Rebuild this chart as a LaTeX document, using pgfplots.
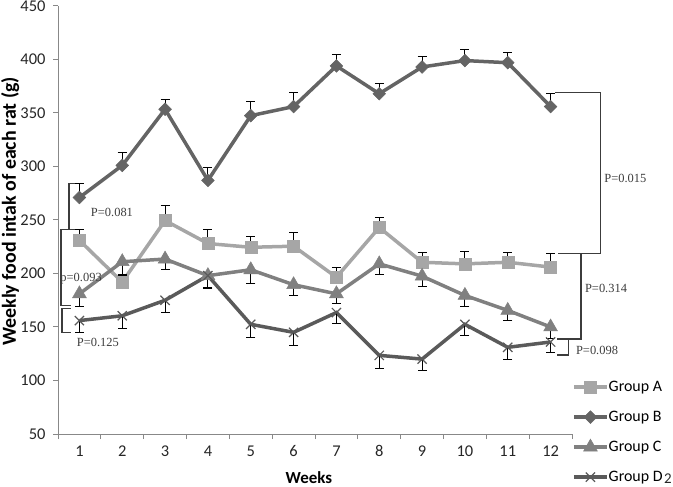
\documentclass[border=0pt]{standalone}
\usepackage{fontspec}
\setmainfont{Carlito}
\newfontfamily\pfont{Liberation Serif}
\usepackage{pgfplots}
\pgfplotsset{compat=1.18}
\usepackage{pgfplotstable}

\definecolor{grpA}{HTML}{A6A6A6}
\definecolor{grpB}{HTML}{646464}
\definecolor{grpC}{HTML}{808080}
\definecolor{grpD}{HTML}{5A5A5A}
\definecolor{axgray}{HTML}{888888}
\definecolor{brk}{HTML}{3C3C3C}

% weekly intake (g): mean and error per group
\pgfplotstableread{
wk  a      ae    b      be    c      ce    d      de
1   231    10    271    13    181    11.5  156    11
2   192    7     301    12.5  211    12.5  160.5  11.5
3   249.5  14    353.5  9.5   213.5  10    175    11
4   228    13    287    12    198    12    198    11
5   224.5  10.5  347.5  13    203.5  12.5  152.5  12
6   225.5  12.5  356    13    189.5  10.5  145    12.5
7   196.5  9.5   394    11    181    9.5   163.5  10
8   243    9.5   368    10    209    10    123.5  12
9   210.5  9.5   393    10    197.5  10    120    11
10  209    11.5  399    10    179.5  10.5  152.5  10.5
11  210.5  9     397    10    165.5  9.5   131    11
12  206    12.5  356    12.5  150    11    136    9.5
}\intake

\begin{document}
\begin{tikzpicture}
\path[use as bounding box] (0bp,0bp) rectangle (673bp,487bp);
\begin{axis}[
  at={(58bp,53bp)}, anchor=south west,
  scale only axis, width=514bp, height=428bp,
  xmin=0.5, xmax=12.5, ymin=50, ymax=450,
  clip=false,
  axis x line*=bottom, axis y line*=left,
  axis line style={-, draw=axgray, line width=1bp},
  tick style={draw=axgray, line width=1bp},
  tick align=outside, major tick length=5bp,
  ytick={50,100,...,450},
  xtick={0.5,1.5,...,12.5}, xticklabels={},
  extra x ticks={1,2,...,12},
  extra x tick labels={1,2,3,4,5,6,7,8,9,10,11,12},
  extra x tick style={major tick length=0pt, xticklabel style={yshift=-8bp}},
  /pgf/number format/assume math mode=true,
  ticklabel style={font=\fontsize{16.5}{19}\selectfont, text=black!85},
  yticklabel style={xshift=-4bp},
  xlabel={Weeks},
  xlabel style={font=\bfseries\fontsize{17}{20}\selectfont, at={(axis description cs:0.488,-0.103)}, anchor=center},
  ylabel={Weekly food intak of each rat (g)},
  ylabel style={font=\bfseries\fontsize{20}{24}\selectfont, at={(axis description cs:-0.093,0.52)}, anchor=center},
  legend style={at={(axis description cs:1,0.145)}, anchor=north west, draw=none, fill=none,
    inner sep=0pt, row sep=0pt, font=\fontsize{16}{19}\selectfont,
    nodes={inner sep=0pt, minimum height=30bp, anchor=west},
    /tikz/every even column/.append style={column sep=3bp}},
  legend cell align=left,
  legend image code/.code={\draw[mark repeat=2,mark phase=2,#1] plot coordinates {(0bp,0bp) (16.5bp,0bp) (33bp,0bp)};},
  every axis plot/.append style={line width=3.5bp},
  error bars/error bar style={draw=black, line width=1bp, solid},
  error bars/error mark options={rotate=90, draw=black, mark size=4.5bp, line width=1bp},
]

\addplot[color=grpA, mark=square*, mark size=6bp, mark options={solid, line width=0.5bp},
  error bars/.cd, y dir=plus, y explicit] table[x=wk, y=a, y error=ae] {\intake};
\addlegendentry{Group A}

\addplot[color=grpB, mark=square*, mark size=4.5bp, mark options={rotate=45, solid, line width=0.5bp},
  error bars/.cd, y dir=plus, y explicit] table[x=wk, y=b, y error=be] {\intake};
\addlegendentry{Group B}

\addplot[color=grpC, mark=triangle*, mark size=8bp, mark options={solid, line width=0.5bp},
  error bars/.cd, y dir=minus, y explicit] table[x=wk, y=c, y error=ce] {\intake};
\addlegendentry{Group C}

\addplot[color=grpD, mark=x, mark size=6.5bp, mark options={solid, line width=1.2bp},
  error bars/.cd, y dir=minus, y explicit] table[x=wk, y=d, y error=de] {\intake};
\addlegendentry{Group D}

% significance brackets
\begin{scope}[draw=brk, line width=1.2bp]
\draw (axis cs:0.897,284) -- (axis cs:0.757,284) -- (axis cs:0.757,241);
\draw (axis cs:0.897,241) -- (axis cs:0.57,241) -- (axis cs:0.57,170) -- (axis cs:0.80,170);
\draw (axis cs:0.80,167.5) -- (axis cs:0.593,167.5) -- (axis cs:0.593,145) -- (axis cs:0.80,145);
\draw (axis cs:12.15,138.8) -- (axis cs:12.41,138.8) -- (axis cs:12.41,123.8) -- (axis cs:12.15,123.8);
\draw (axis cs:12.41,138.8) -- (axis cs:12.71,138.8) -- (axis cs:12.71,218.6);
\draw (axis cs:12.18,218.6) -- (axis cs:13.16,218.6) -- (axis cs:13.16,369) -- (axis cs:12.10,369);
\end{scope}

\begin{scope}[every node/.style={font=\pfont\fontsize{12.5}{14}\selectfont, text=brk, inner sep=0pt}]
\node at (axis cs:1.76,257) {P=0.081};
\node at (axis cs:1.04,195) {p=0.093};
\node at (axis cs:1.43,136) {P=0.125};
\node[anchor=west] at (axis cs:13.25,288.7) {P=0.015};
\node[anchor=west] at (axis cs:12.80,186) {P=0.314};
\node[anchor=west] at (axis cs:12.59,128.5) {P=0.098};
\end{scope}

\node[font=\fontsize{15}{17}\selectfont, text=black!85, anchor=base, inner sep=0pt] at (axis cs:14.74,4) {2};
\end{axis}
\end{tikzpicture}
\end{document}
